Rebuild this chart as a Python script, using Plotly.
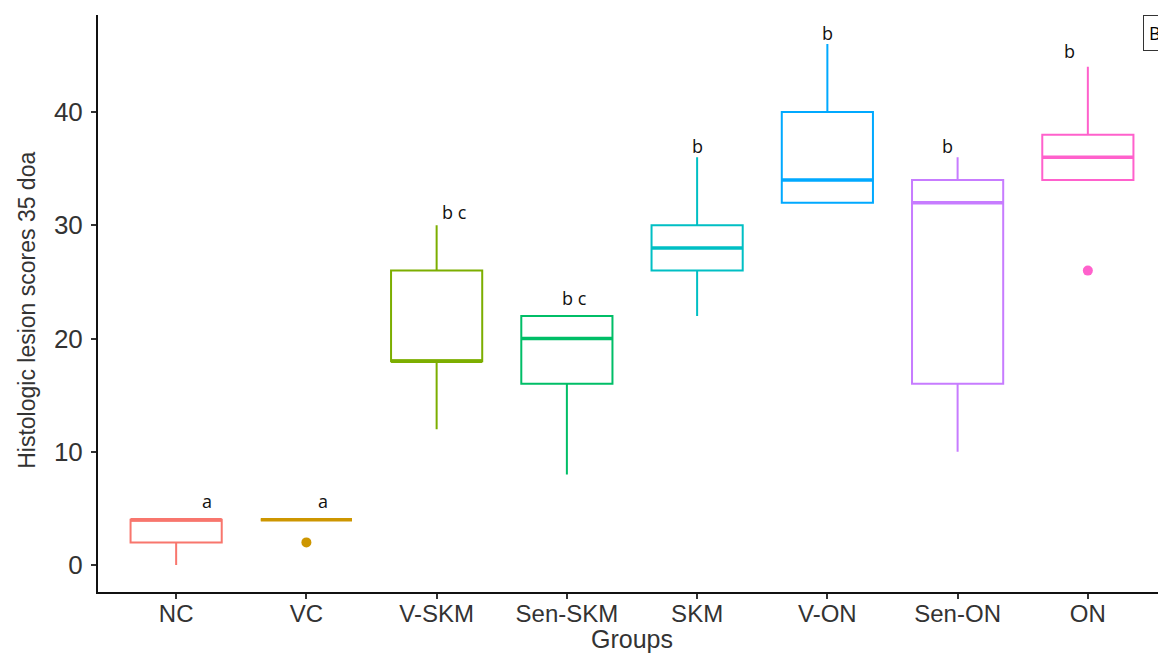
import plotly.graph_objects as go

groups = ["NC", "VC", "V-SKM", "Sen-SKM", "SKM", "V-ON", "Sen-ON", "ON"]
colors = ["#F8766D", "#CD9600", "#7CAE00", "#00BE67", "#00BFC4", "#00A9FF", "#C77CFF", "#FF61CC"]
q1 = [2, 4, 18, 16, 26, 32, 16, 34]
median = [4, 4, 18, 20, 28, 34, 32, 36]
q3 = [4, 4, 26, 22, 30, 40, 34, 38]
lower = [0, 4, 12, 8, 22, 32, 10, 34]
upper = [4, 4, 30, 22, 36, 46, 36, 44]
outlier_groups = ["VC", "ON"]
outlier_values = [2, 26]
letters = ["a", "a", "b c", "b c", "b", "b", "b", "b"]
letter_y = [5.7, 5.7, 31.2, 23.6, 37.0, 47.0, 37.0, 45.4]
letter_dx = [0.24, 0.13, 0.14, 0.06, 0.0, 0.0, -0.08, -0.14]

BOXW = 0.7
fig = go.Figure()
for i, g in enumerate(groups):
    fig.add_trace(go.Box(
        x=[g], q1=[q1[i]], median=[median[i]], q3=[q3[i]],
        lowerfence=[lower[i]], upperfence=[upper[i]],
        name=g, width=BOXW, whiskerwidth=0,
        fillcolor="white", line=dict(color=colors[i], width=2),
        boxpoints=False, showlegend=False, hoverinfo="skip"))
    # thicker median like ggplot
    fig.add_shape(type="line", xref="x", yref="y",
                  x0=i - BOXW / 2, x1=i + BOXW / 2, y0=median[i], y1=median[i],
                  line=dict(color=colors[i], width=3.5), layer="above")
    fig.add_annotation(x=i + letter_dx[i], y=letter_y[i], xref="x", yref="y",
                       text=letters[i], showarrow=False,
                       font=dict(family="Open Sans, Liberation Sans", size=18, color="#111111"))

for g, v in zip(outlier_groups, outlier_values):
    fig.add_trace(go.Scatter(x=[g], y=[v], mode="markers",
                             marker=dict(color=colors[groups.index(g)], size=10),
                             showlegend=False, hoverinfo="skip"))

fig.add_annotation(xref="paper", yref="paper", x=0.978, y=1.0, xanchor="left", yanchor="top",
                   text="B", showarrow=False, bordercolor="#333333", borderwidth=1, borderpad=5,
                   bgcolor="white", font=dict(family="Open Sans, Liberation Sans", size=18, color="black"))

# axis titles as annotations for exact placement
fig.add_annotation(xref="paper", yref="paper", x=0.5, y=-0.082, xanchor="center", yanchor="middle",
                   text="Groups", showarrow=False,
                   font=dict(family="Liberation Sans, Arial", size=25, color="#333333"))
fig.add_annotation(xref="paper", yref="paper", x=-0.0665, y=0.489, xanchor="center", yanchor="middle",
                   text="Histologic lesion scores 35 doa", textangle=-90, showarrow=False,
                   font=dict(family="Liberation Sans, Arial", size=23, color="#333333"))

# page body has an 8px margin, so the figure is sized to fit the 1166x653 window
fig.update_layout(
    width=1158, height=645,
    margin=dict(l=90, r=0, t=7, b=61),
    plot_bgcolor="white", paper_bgcolor="white",
    xaxis=dict(type="category", categoryorder="array", categoryarray=groups,
               range=[-0.6, 7.6], showline=True, linecolor="#111111", linewidth=2,
               ticks="outside", ticklen=5, tickcolor="#333333", tickwidth=1.5,
               ticklabelstandoff=-6,
               tickfont=dict(family="Liberation Sans, Arial", size=24, color="#333333"),
               showgrid=False, zeroline=False, automargin=False),
    yaxis=dict(range=[-2.38, 48.57], tickvals=[0, 10, 20, 30, 40],
               showline=True, linecolor="#111111", linewidth=2,
               ticks="outside", ticklen=5, tickcolor="#333333", tickwidth=1.5,
               ticklabelstandoff=3,
               tickfont=dict(family="Liberation Sans, Arial", size=26, color="#333333"),
               showgrid=False, zeroline=False, automargin=False),
)

fig.write_html("out.html")
